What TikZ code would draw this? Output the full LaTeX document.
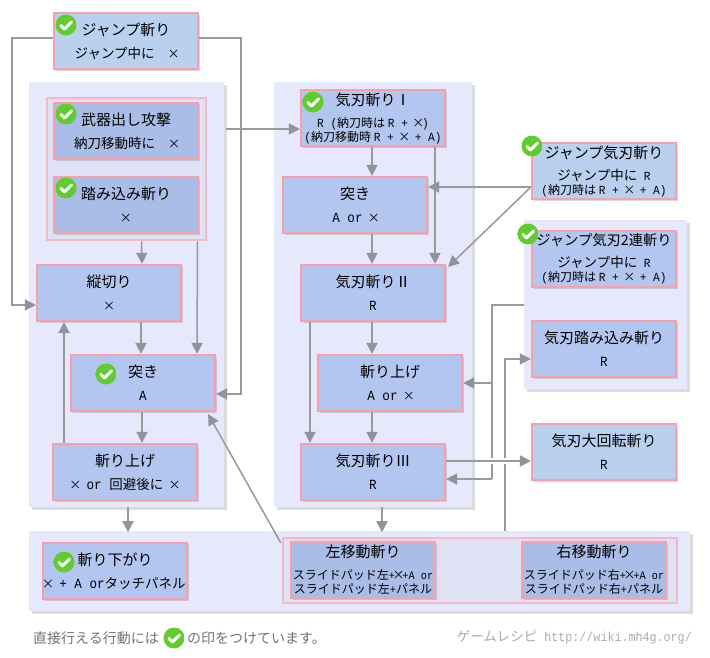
\documentclass[tikz,border=0pt]{standalone}
\usepackage{fontspec}
\setmainfont{Noto Sans CJK JP}
\newfontfamily\ascfont[FakeStretch=0.9]{Liberation Mono}
\usetikzlibrary{arrows.meta,shadows}
\definecolor{areafill}{HTML}{E6E8FC}
\definecolor{groupfill}{HTML}{DFE2F5}
\definecolor{groupline}{HTML}{F5B8C8}
\definecolor{boxline}{HTML}{F99FAB}
\definecolor{boxfill}{HTML}{B3C6EF}
\definecolor{darkfill}{HTML}{AABDE6}
\definecolor{freefill}{HTML}{B9D0EE}
\definecolor{linkgray}{HTML}{999999}
\definecolor{tipgray}{HTML}{92929A}
\definecolor{okgreen}{HTML}{14900F}
\definecolor{oklight}{HTML}{62CC2E}
\newcommand{\crs}{{\rmfamily\fontsize{12}{14}\selectfont\makebox[7.5pt]{×}}}
\newcommand{\asc}[1]{{\ascfont\fontsize{14}{14}\selectfont #1}}
\newcommand{\ascm}[1]{{\ascfont\fontsize{12.4}{14}\selectfont #1}}
\newcommand{\ascs}[1]{{\ascfont\fontsize{11.4}{14}\selectfont #1}}
\newcommand{\ttl}[1]{{\fontsize{15}{15}\selectfont #1}}
\newcommand{\subt}[1]{{\fontsize{13.5}{14}\selectfont #1}}
\tikzset{
  areabox/.style={fill=areafill,inner sep=0,drop shadow={shadow xshift=3pt,shadow yshift=-3pt,fill=black!45,opacity=0.3}},
  groupbox/.style={draw=groupline,fill=groupfill,line width=2.5pt,inner sep=0},
  movebox/.style={draw=boxline,line width=2.2pt,inner sep=0,minimum width=144,minimum height=56,
    align=center,font=\fontsize{12}{14}\selectfont,
    drop shadow={shadow xshift=2pt,shadow yshift=-2pt,fill=black!50,opacity=0.3}},
  plainbox/.style={movebox,fill=boxfill},
  darkbox/.style={movebox,fill=darkfill},
  freebox/.style={movebox,fill=freefill},
  link/.style={draw=linkgray,line width=1.5pt,-{Triangle[width=11pt,length=11pt,color=tipgray]}},
  plainlink/.style={draw=linkgray,line width=1.5pt},
  okmark/.pic={
    \shade[top color=oklight,middle color=okgreen,bottom color=oklight] (0,0) circle[radius=10.5];
    \draw[white,line width=3pt,line cap=round,line join=round] (-5,0.5)--(-1.5,4)--(5.5,-3);
  }
}
\begin{document}
\begin{tikzpicture}[x=1pt,y=-1pt]
\useasboundingbox[fill=white] (0,0) rectangle (710,658);

% backgrounds
\node[areabox,minimum width=195,minimum height=425] (leftarea) at (126.5,294.5) {};
\node[areabox,minimum width=198,minimum height=425] (midarea) at (373,294.5) {};
\node[areabox,minimum width=163,minimum height=169] (rightarea) at (605.5,304.5) {};
\node[areabox,minimum width=661,minimum height=80] (lowarea) at (359.5,571) {};
\node[groupbox,minimum width=159,minimum height=142] (startgroup) at (126.5,169) {};
\node[groupbox,minimum width=394,minimum height=65] (slidegroup) at (480,570.5) {};

% left column
\node[freebox] (jumpcut) at (126,41) {\ttl{ジャンプ斬り}\\[9pt]\subt{ジャンプ中に}\asc{ }\asc{ }\crs};
\node[darkbox] (drawatk) at (126,131) {\ttl{武器出し攻撃}\\[9pt]\subt{納刀移動時に}\asc{ }\asc{ }\crs};
\node[darkbox] (stepcut) at (126,205) {\ttl{踏み込み斬り}\\[9pt]\crs};
\node[plainbox] (vertcut) at (109,293) {\ttl{縦切り}\\[9pt]\crs};
\node[plainbox] (thrust) at (143,383) {\ttl{突き}\\[9pt]\asc{A}};
\node[plainbox] (upcut) at (125,472) {\ttl{斬り上げ}\\[9pt]\crs\asc{ or }\subt{回避後に}\asc{ }\crs};
\node[plainbox] (backcut) at (115,571) {\ttl{斬り下がり}\\[9pt]\crs\asc{ + A or}\subt{タッチパネル}};

% middle column
\node[plainbox] (spiritone) at (373,118) {\ttl{気刃斬りⅠ}\\[8pt]\ascm{R (}納刀時は \ascm{R + }\crs\ascm{)}\\\ascm{(}納刀移動時 \ascm{R + }\crs\ascm{ + A)}};
\node[plainbox] (spiritthrust) at (355,205) {\ttl{突き}\\[9pt]\asc{A or }\crs};
\node[plainbox] (spirittwo) at (373,293) {\ttl{気刃斬りⅡ}\\[9pt]\asc{R}};
\node[plainbox] (spiritup) at (390,383) {\ttl{斬り上げ}\\[9pt]\asc{A or }\crs};
\node[plainbox] (spiritthree) at (373,472) {\ttl{気刃斬りⅢ}\\[9pt]\asc{R}};

% right column
\node[freebox] (jumpspirit) at (604,171) {\ttl{ジャンプ気刃斬り}\\[8pt]\subt{ジャンプ中に}\ascm{ R}\\\ascm{(}納刀時は \ascm{R + }\crs\ascm{ + A)}};
\node[plainbox] (jumptwin) at (604,259) {{\fontsize{14.3}{15}\selectfont ジャンプ気刃2連斬り}\\[8pt]\subt{ジャンプ中に}\ascm{ R}\\\ascm{(}納刀時は \ascm{R + }\crs\ascm{ + A)}};
\node[plainbox] (spiritstep) at (604,349) {\ttl{気刃踏み込み斬り}\\[9pt]\asc{R}};
\node[freebox] (spiritspin) at (604,452) {\ttl{気刃大回転斬り}\\[9pt]\asc{R}};

% slide moves
\node[darkbox] (leftmove) at (363,570) {\ttl{左移動斬り}\\[8pt]スライドパッド左\ascs{+}\crs\ascs{+A or}\\スライドパッド左\ascs{+}パネル};
\node[darkbox] (rightmove) at (594,570) {\ttl{右移動斬り}\\[8pt]スライドパッド右\ascs{+}\crs\ascs{+A or}\\スライドパッド右\ascs{+}パネル};

% free ends of links
\coordinate (returntop) at (492,305);
\coordinate (returnup) at (492,383);
\coordinate (returnlow) at (492,479);
\coordinate (risefoot) at (505,531);
\coordinate (risetop) at (505,359);

% links
\draw[link] ([yshift=3pt]jumpcut.west) -- ++(-41,0) |- ([yshift=-12pt]vertcut.west);
\draw[link] ([yshift=3pt]jumpcut.east) -- ++(42,0) |- ([yshift=-11pt]thrust.east);
\draw[link] ([xshift=2pt,yshift=-11pt]leftarea.east |- spiritone.west) -- ([yshift=-11pt]spiritone.west);
\draw[link] ([xshift=15pt]startgroup.south) -- ([xshift=33pt]vertcut.north);
\draw[link] ([xshift=71pt]startgroup.south) -- ([xshift=54pt]thrust.north);
\draw[link] ([xshift=32pt]vertcut.south) -- ([xshift=-2pt]thrust.north);
\draw[link] ([xshift=-1pt]thrust.south) -- ([xshift=17pt]upcut.north);
\draw[link] ([xshift=-61pt]upcut.north) -- ([xshift=-45pt]vertcut.south);
\draw[link] ([xshift=1.5pt]leftarea.south) -- ++(0,25);
\draw[link] ([xshift=-1pt,yshift=-6pt]slidegroup.north west) -- ([xshift=-8pt,yshift=-2pt]thrust.south east);

\draw[link] ([xshift=-1pt]spiritone.south) -- ([xshift=17pt]spiritthrust.north);
\draw[link] ([xshift=62pt]spiritone.south) -- ([xshift=62pt]spirittwo.north);
\draw[link] ([yshift=-16pt]jumpspirit.west) -- ([yshift=18pt]spiritthrust.east);
\draw[link] ([yshift=-16pt]jumpspirit.west) -- ([xshift=2pt,yshift=-3pt]spirittwo.north east);
\draw[link] ([xshift=17pt]spiritthrust.south) -- ([xshift=-1pt]spirittwo.north);
\draw[link] ([xshift=-63pt]spirittwo.south) -- ([xshift=-63pt]spiritthree.north);
\draw[link] ([xshift=-1pt]spirittwo.south) -- ([xshift=-18pt]spiritup.north);
\draw[link] ([xshift=-18pt]spiritup.south) -- ([xshift=-1pt]spiritthree.north);

\draw[plainlink] (rightarea.west |- returntop) -- (returntop) -- (returnlow);
\draw[link] (returnlow) -- ([yshift=-7pt]spiritthree.east);
\draw[link] (returnup) -- (spiritup.east);
\draw[link] (risefoot) -- (risetop) -- ([yshift=-10pt]spiritstep.west);
\draw[white,line width=6.5pt] ([yshift=11pt,xshift=40pt]spiritthree.east) -- ([yshift=11pt,xshift=67pt]spiritthree.east);
\draw[link] ([yshift=11pt]spiritthree.east) -- ([yshift=-9pt]spiritspin.west);
\draw[link] ([xshift=9pt]midarea.south) -- ++(0,25);

% check marks
\foreach \px/\py in {66/25,66/114,66/188,106/374,313/102,532/146,528/234,64/562,174/638}
  \pic at (\px,\py) {okmark};

% captions
\node[anchor=west,inner sep=0,text=black!55,font=\fontsize{14}{15}\selectfont] (notehead) at (33,638) {直接行える行動には};
\node[anchor=west,inner sep=0,text=black!55,font=\fontsize{14}{15}\selectfont] (notetail) at (187,638) {の印をつけています。};
\node[anchor=east,inner sep=0,text=black!33,font=\fontsize{13.5}{15}\selectfont] (siteurl) at (692,637) {ゲームレシピ\hspace{7pt}{\ascfont\fontsize{13}{15}\selectfont http://wiki.mh4g.org/}};
\end{tikzpicture}
\end{document}
